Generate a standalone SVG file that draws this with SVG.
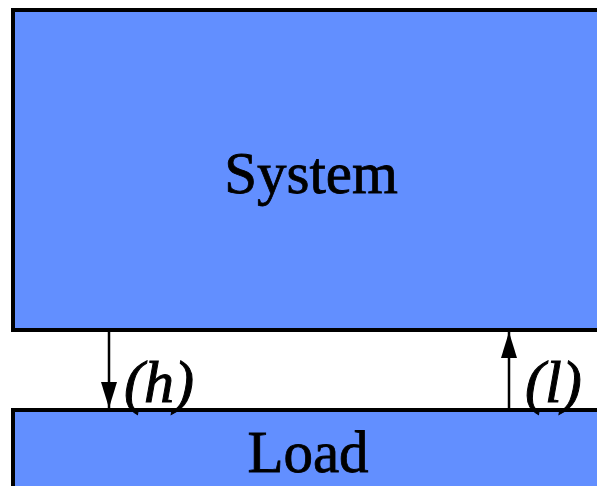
<svg xmlns="http://www.w3.org/2000/svg" width="597" height="486" viewBox="0 0 597 486">
  <style>
    .box { fill: #628FFF; stroke: #000; stroke-width: 4; }
    .name { font-family: "Liberation Serif", "Times New Roman", serif; font-size: 59px; fill: #000; stroke: #000; stroke-width: 0.8; text-anchor: middle; }
    .tag { font-family: "Liberation Serif", "Times New Roman", serif; font-size: 60px; font-style: italic; fill: #000; stroke: #000; stroke-width: 1; }
    .wire { stroke: #000; stroke-width: 2.5; fill: none; }
  </style>
  <defs>
    <marker id="head" markerWidth="26" markerHeight="16" refX="26" refY="8" orient="auto" markerUnits="userSpaceOnUse" viewBox="0 0 26 16">
      <path d="M0,0 L26,8 L0,16 Z" fill="#000"/>
    </marker>
  </defs>
  <rect width="597" height="486" fill="#fff"/>
  <g id="system">
    <rect class="box" x="13" y="10" width="600" height="320"/>
    <text class="name" x="311" y="193">System</text>
  </g>
  <g id="load">
    <rect class="box" x="13" y="410" width="600" height="100"/>
    <text class="name" x="308" y="472">Load</text>
  </g>
  <g id="connectors">
    <line class="wire" x1="109" y1="332" x2="109" y2="408" marker-end="url(#head)"/>
    <text class="tag" x="124" y="402">(h)</text>
    <line class="wire" x1="509" y1="408" x2="509" y2="332" marker-end="url(#head)"/>
    <text class="tag" x="525" y="402">(l)</text>
  </g>
</svg>
